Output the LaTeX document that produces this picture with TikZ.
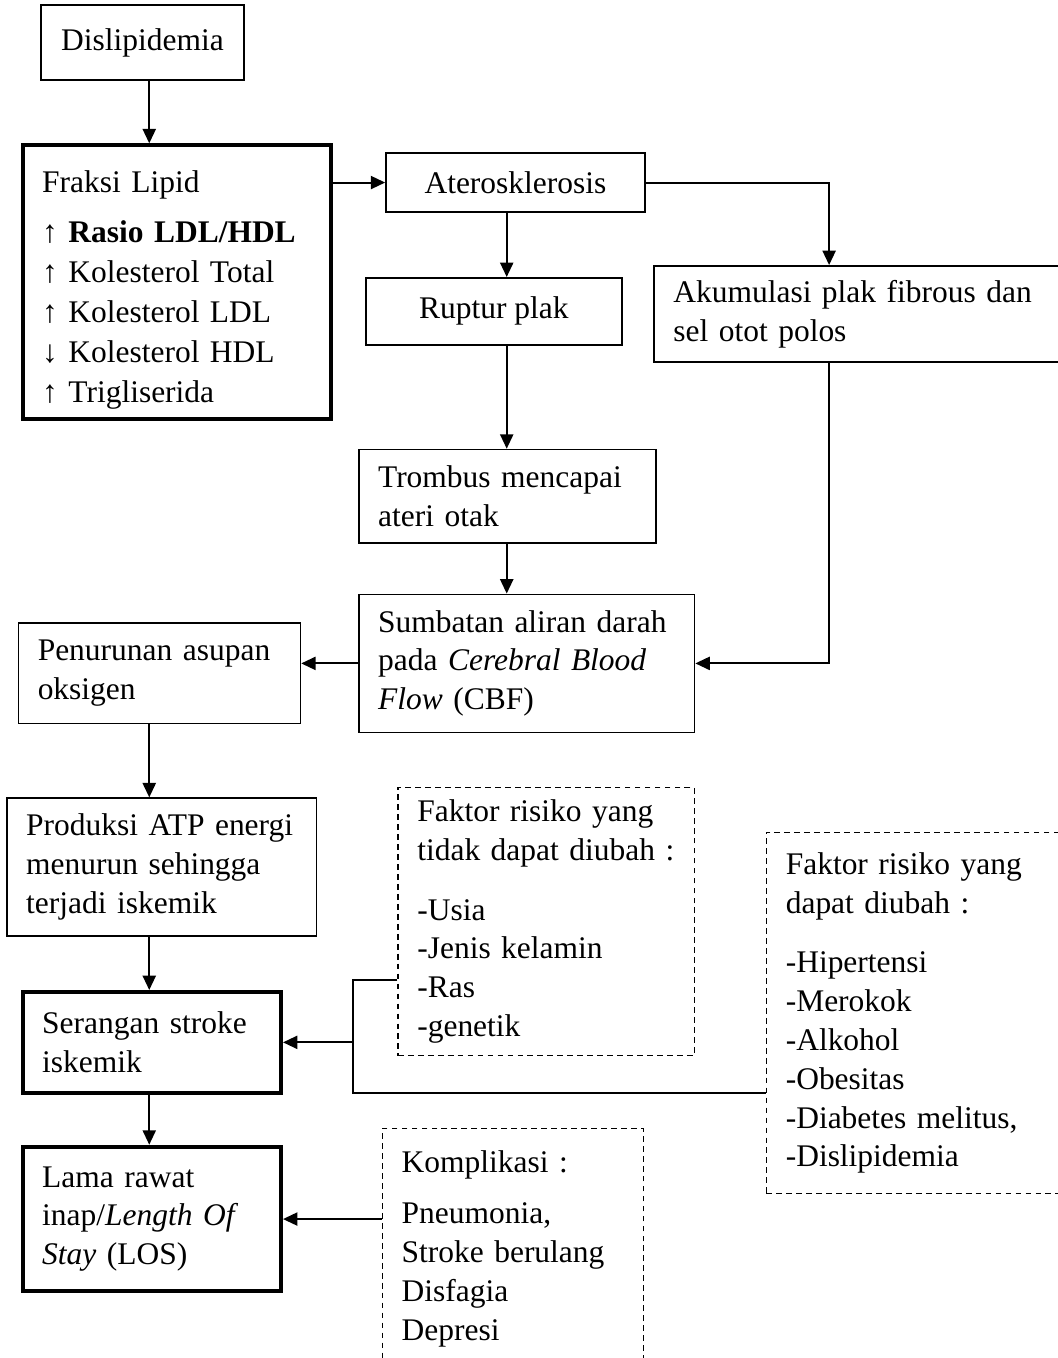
\documentclass[tikz,border=0pt]{standalone}
\usepackage{fontspec}
\setmainfont{Liberation Serif}
\usetikzlibrary{arrows.meta,positioning}

\begin{document}
\begin{tikzpicture}[node distance=0.8cm, every node/.style={font=\fontsize{12}{14.8}\selectfont},
        box/.style={rectangle,draw,line width=0.6pt,align=center,inner sep=0pt},
        txtbox/.style={box,align=left,inner xsep=0.26cm},
        thickbox/.style={line width=1.5pt},
        risk/.style={rectangle,draw,line width=0.5pt,dash pattern=on 2.2pt off 1.6pt,
          align=left,inner xsep=0.26cm,inner ysep=0pt},
        arrow/.style={-{Triangle[length=5.5pt,width=5pt]},line width=0.75pt},
        link/.style={line width=0.6pt}]
        \useasboundingbox (0,0) rectangle (14.164,-18.197);
        \node[box,minimum width=2.72cm,minimum height=1.0cm] (dis) at (1.91,-0.57) {Dislipidemia};
        \node[txtbox,thickbox,text width=3.61cm,minimum height=3.67cm,below=0.84cm of dis,xshift=0.46cm,
          font=\fontsize{12}{15.2}\selectfont] (fraksi)
          {\rule{0pt}{14pt}Fraksi Lipid\\[4pt] ↑ \textbf{Rasio LDL/HDL}\\ ↑ Kolesterol Total\\ ↑ Kolesterol LDL\\
           ↓ Kolesterol HDL\\ ↑ Trigliserida};
        \node[box,minimum width=3.47cm,minimum height=0.79cm,below right=0.12cm and 0.70cm of fraksi.north east] (ater) {Aterosklerosis};
        \node[box,minimum width=3.43cm,minimum height=0.9cm,below=0.86cm of ater,xshift=-0.29cm] (ruptur) {Ruptur plak};
        \node[txtbox,text width=5.11cm,minimum height=1.29cm,below right=0.70cm and 0.10cm of ater] (akum)
          {Akumulasi plak fibrous dan\\ sel otot polos};
        \node[txtbox,text width=3.46cm,minimum height=1.25cm,below=1.38cm of ruptur,xshift=0.18cm] (trombus)
          {Trombus mencapai\\ ateri otak};
        \node[txtbox,text width=3.98cm,minimum height=1.85cm,below=0.67cm of trombus,xshift=0.26cm] (sumb)
          {Sumbatan aliran darah\\ pada \textit{Cerebral Blood}\\ \textit{Flow} (CBF)};
        \node[txtbox,text width=3.26cm,minimum height=1.35cm,left=0.76cm of sumb,yshift=-0.13cm] (pen)
          {Penurunan asupan\\ oksigen};
        \node[txtbox,text width=3.63cm,minimum height=1.85cm,below=0.98cm of pen,xshift=0.03cm] (prod)
          {Produksi ATP energi\\ menurun sehingga\\ terjadi iskemik};
        \node[txtbox,thickbox,text width=2.94cm,minimum height=1.35cm,below=0.71cm of prod,xshift=-0.13cm] (ser)
          {Serangan stroke\\ iskemik};
        \node[txtbox,thickbox,text width=2.94cm,minimum height=1.94cm,below=0.67cm of ser] (lama)
          {Lama rawat\\ inap/\textit{Length Of}\\ \textit{Stay} (LOS)};
        % faktor risiko dan komplikasi
        \node[risk,text width=3.45cm,minimum height=3.59cm,below=0.72cm of sumb,xshift=0.26cm] (fak1)
          {Faktor risiko yang\\ tidak dapat diubah :\\[8pt] -Usia\\ -Jenis kelamin\\ -Ras\\ -genetik};
        \node[risk,text width=3.63cm,minimum height=4.84cm,below right=0.6cm and 0.95cm of fak1.north east] (fak2)
          {Faktor risiko yang\\ dapat diubah :\\[8pt] -Hipertensi\\ -Merokok\\ -Alkohol\\ -Obesitas\\
           -Diabetes melitus,\\ -Dislipidemia};
        \node[risk,text width=2.98cm,minimum height=3.22cm,below right=0.96cm and -0.21cm of fak1.south west] (komp)
          {Komplikasi :\\[5pt] Pneumonia,\\ Stroke berulang\\ Disfagia\\ Depresi};
        \coordinate (lcol) at (2.0,0);
        \coordinate (mcol) at (6.79,0);
        \coordinate (rcol) at (11.11,0);
        \coordinate[right=0.94cm of ser.east] (jn);
        \draw[arrow] (lcol |- dis.south) -- (lcol |- fraksi.north);
        \draw[arrow] (fraksi.east |- ater.west) -- (ater.west);
        \draw[arrow] (mcol |- ater.south) -- (mcol |- ruptur.north);
        \draw[arrow] (ater.east) -| (rcol |- akum.north);
        \draw[arrow] (mcol |- ruptur.south) -- (mcol |- trombus.north);
        \draw[arrow] (mcol |- trombus.south) -- (mcol |- sumb.north);
        \draw[arrow] (rcol |- akum.south) |- (sumb.east);
        \draw[arrow] (sumb.west) -- (pen.east |- sumb.west);
        \draw[arrow] (lcol |- pen.south) -- (lcol |- prod.north);
        \draw[arrow] (lcol |- prod.south) -- (lcol |- ser.north);
        \draw[arrow] (lcol |- ser.south) -- (lcol |- lama.north);
        \draw[link] ([yshift=-0.78cm]fak1.west) -| (jn) |- ([yshift=-1.07cm]fak2.west);
        \draw[arrow] (jn) -- (ser.east);
        \draw[arrow] (komp.west |- lama.east) -- (lama.east);
      \end{tikzpicture}
\end{document}
